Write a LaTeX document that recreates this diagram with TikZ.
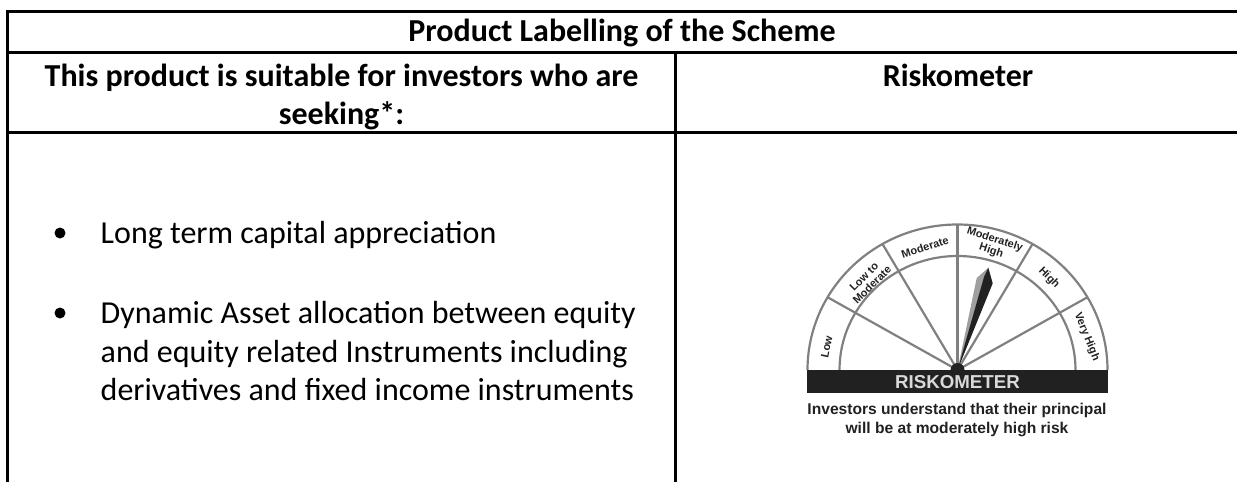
\documentclass[tikz,border=0pt]{standalone}
\usepackage{fontspec}
\setmainfont{Carlito}
\newfontfamily\gaugefont{Liberation Sans}
\usetikzlibrary{calc}
\definecolor{gaugegray}{gray}{0.5}
\definecolor{gaugeink}{gray}{0.13}
\tikzset{
  rule/.style={line width=3pt,black},
  head/.style={font=\fontsize{32}{39}\selectfont\bfseries,anchor=base,inner sep=0pt},
  body/.style={font=\fontsize{32}{39}\selectfont,anchor=base west,inner sep=0pt},
  bulletdot/.style={circle,fill=black,minimum size=11pt,inner sep=0pt},
  dial/.style={line width=2.2pt,gaugegray},
  sector/.style={font=\gaugefont\fontsize{11}{11.5}\selectfont\bfseries,text=gaugeink,align=center,inner sep=0pt,anchor=center},
  caption/.style={font=\gaugefont\fontsize{15.6}{17}\selectfont\bfseries,text=gaugeink,inner sep=0pt,anchor=base}
}
\begin{document}
\begin{tikzpicture}[x=1pt,y=-1pt]
\useasboundingbox (0,0) rectangle (1237,482);
% table rules
\draw[rule] (7.5,482) -- (7.5,11) -- (1237,11);
\draw[rule] (7.5,52.5) -- (1237,52.5);
\draw[rule] (7.5,132.5) -- (1237,132.5);
\draw[rule] (675.3,52.5) -- (675.3,482);
% headers
\node[head] (title) at (622,41) {Product Labelling of the Scheme};
\node[head] (seek1) at (341.5,86) {This product is suitable for investors who are};
\node[head] (seek2) at (341.5,124.5) {seeking*:};
\node[head] (risk) at (958,86) {Riskometer};
% bullets
\node[bulletdot] (b1) at (60,233) {};
\node[bulletdot] (b2) at (60,313) {};
\node[body] (l1) at (100.5,243.5) {Long term capital appreciation};
\node[body] (l2) at (100.5,323) {Dynamic Asset allocation between equity};
\node[body] (l3) at (100.5,362) {and equity related Instruments including};
\node[body] (l4) at (100.5,400) {derivatives and fixed income instruments};
% gauge
\coordinate (c) at (957.5,370);
\draw[dial] (807.5,370) arc[start angle=180,end angle=360,x radius=150,y radius=145.5];
\draw[dial] (839.5,370) arc[start angle=180,end angle=360,x radius=118,y radius=114];
\foreach \a in {30,60,90,120,150}
  \draw[dial] (c) -- ($(c)+({150*cos(\a)},{-145.5*sin(\a)})$);
% needle
\fill[gray!75] (c) -- (976.7,278) -- (988.3,267.7) -- cycle;
\fill[gaugeink] (c) -- (984,277) -- (988.3,267.7) -- (992.7,283.3) -- cycle;
\fill[gaugeink] (c) circle[radius=7];
% bar
\fill[gaugeink] (806.5,370) rectangle (1108,392.5);
\node[font=\gaugefont\fontsize{18.7}{19}\selectfont\bfseries,text=white!85!black,inner sep=0pt] (rk) at (957.5,382) {RISKOMETER};
% sector labels
\node[sector,rotate=78] (s1) at (826.7,346.7) {Low};
\node[sector,rotate=45] (s2) at (868,280.7) {Low to\\Moderate};
\node[sector,rotate=18] (s3) at (925,247) {Moderate};
\node[sector,rotate=-18] (s4) at (993,245.5) {Moderately\\High};
\node[sector,rotate=-45] (s5) at (1049,278) {High};
\node[sector,rotate=-68] (s6) at (1086.7,336.7) {Very High};
% caption
\node[caption] (c1) at (957,414) {Investors understand that their principal};
\node[caption] (c2) at (957,433) {will be at moderately high risk};
\end{tikzpicture}
\end{document}
